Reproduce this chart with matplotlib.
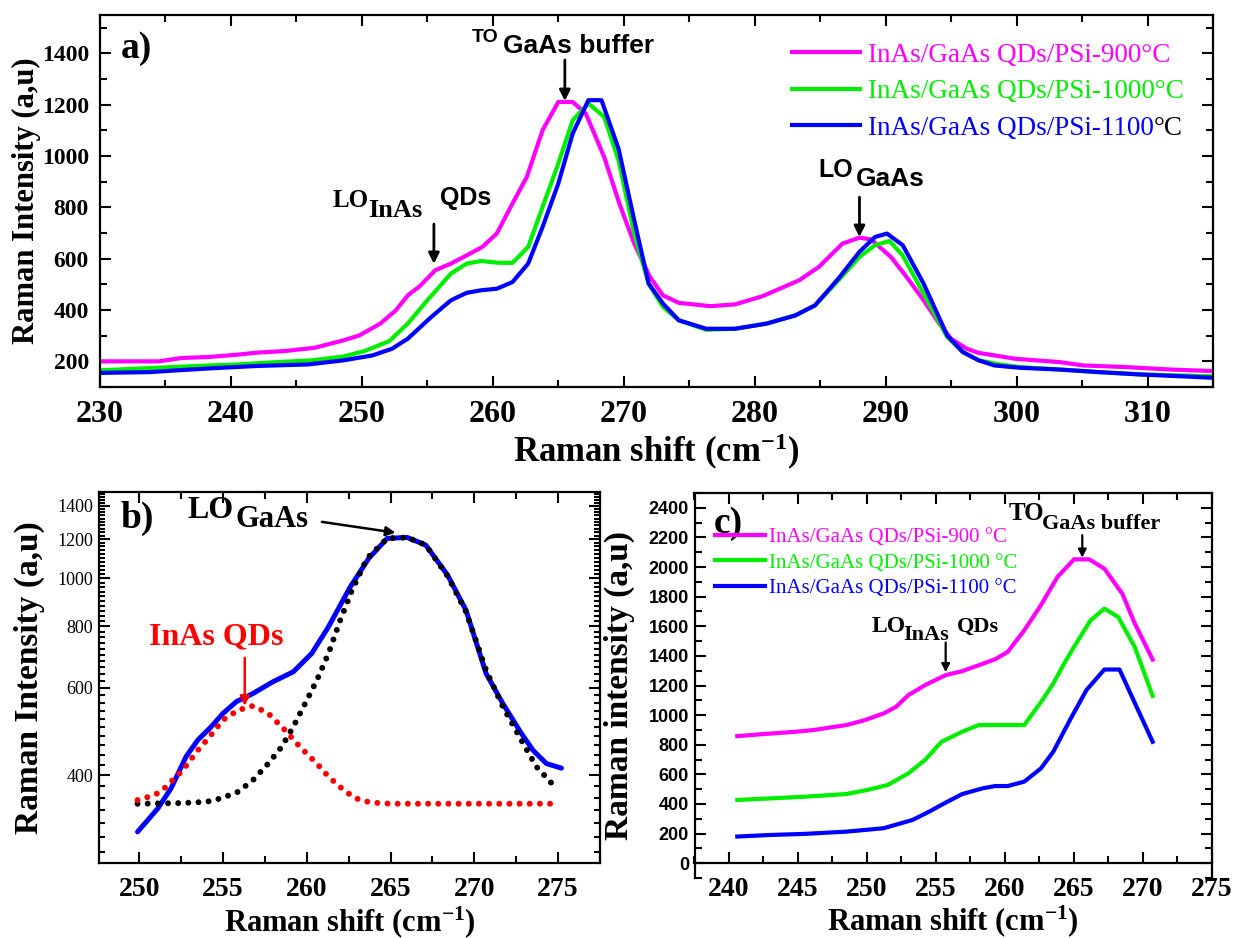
import numpy as np
import matplotlib
matplotlib.use('Agg')
import matplotlib.pyplot as plt
from matplotlib.ticker import MultipleLocator, FixedLocator, NullFormatter, FuncFormatter

plt.rcParams['font.family'] = 'Liberation Serif'
plt.rcParams['mathtext.fontset'] = 'custom'
plt.rcParams['mathtext.rm'] = 'Liberation Serif:bold'
plt.rcParams['mathtext.bf'] = 'Liberation Serif:bold'
plt.rcParams['mathtext.it'] = 'Liberation Serif:italic:bold'
plt.rcParams['mathtext.sf'] = 'Liberation Sans:bold'

# ---- panel a data ----
xa_900 = [230, 234.5, 236.2, 238.3, 240.5, 242, 244.1, 246.4, 248.6, 249.8, 251.4, 252.6, 253.5,
          254.4, 255.6, 256.8, 258, 259.2, 260.3, 261.5, 262.6, 263.8, 265, 266.1, 267.1, 268.5,
          269.7, 270.8, 272.0, 273.0, 274.2, 276.6, 278.5, 280.6, 283.4, 284.9, 286.7, 288.0,
          288.9, 290.4, 291.6, 292.9, 294.1, 295.0, 296.2, 297.1, 299.9, 303.3, 305.1, 308.2,
          311.8, 315]
ya_900 = [200, 200, 213, 217, 226, 234, 240, 253, 282, 301, 347, 399, 457, 492, 555, 581, 613,
          646, 698, 815, 919, 1101, 1211, 1211, 1166, 997, 810, 659, 529, 457, 428, 415, 422,
          454, 516, 568, 659, 682, 675, 607, 529, 438, 347, 288, 249, 233, 210, 197, 184, 178,
          168, 162]
xa_1000 = [230, 234.4, 237.4, 240.5, 243.5, 246.2, 248.6, 250.2, 252.1, 253.5, 255, 256.8, 258,
           259.1, 260.5, 261.5, 262.7, 263.8, 265, 266.1, 267.3, 268.5, 269.6, 270.8, 271.9,
           273.0, 274.2, 276.3, 278.5, 280.9, 283.1, 284.6, 286.4, 288, 289.2, 290.3, 291.3,
           292.9, 294.7, 295.9, 297.1, 298.7, 300.2, 303.3, 306.3, 309.4, 315]
ya_1000 = [165, 175, 182, 188, 197, 204, 219, 240, 279, 347, 438, 542, 581, 591, 584, 584, 646,
           802, 971, 1140, 1205, 1153, 984, 698, 503, 412, 360, 323, 327, 347, 379, 418, 516,
           607, 653, 669, 613, 464, 295, 236, 204, 188, 178, 168, 158, 149, 142]
xa_1100 = [230, 233.8, 235.9, 238.9, 242, 245.9, 248.6, 250.8, 252.3, 253.5, 255.3, 256.8, 258,
           259.1, 260.3, 261.5, 262.7, 263.8, 265, 266.1, 267.3, 268.3, 269.6, 270.8, 271.9,
           273.0, 274.2, 276.3, 278.5, 280.9, 283.1, 284.6, 286.4, 288, 289.2, 290.1, 291.3,
           292.9, 294.7, 295.9, 297.1, 298.3, 300.2, 303.3, 306.3, 309.4, 315]
ya_1100 = [155, 158, 165, 174, 182, 188, 204, 223, 249, 288, 373, 438, 467, 477, 483, 509, 581,
           724, 893, 1088, 1218, 1218, 1029, 750, 503, 425, 360, 327, 327, 347, 379, 418, 523,
           627, 685, 698, 653, 503, 301, 236, 204, 184, 175, 168, 158, 149, 136]

# ---- panel b data: measured spectrum and the two fitted peaks ----
xb_meas = [249.9, 251.1, 251.9, 252.8, 253.5, 254.3, 255.0, 255.8, 256.8, 258.0, 259.2, 260.3,
           261.3, 262.6, 263.7, 264.8, 266.0, 267.1, 268.4, 269.5, 270.7, 271.7, 272.8, 273.5,
           274.3, 275.2]
yb_meas = [307, 342, 376, 436, 471, 501, 533, 563, 585, 618, 647, 705, 798, 961, 1097, 1204,
           1209, 1167, 1015, 862, 642, 558, 486, 449, 422, 413]
xb_inas = [249.9, 250.4, 251.0, 251.4, 251.9, 252.6, 253.5, 254.2, 255.0, 255.9, 256.8, 257.7,
           258.7, 259.6, 260.6, 261.3, 262.2, 262.9, 263.8, 265.0, 270.0, 275.0]
yb_inas = [356, 360, 366, 373, 388, 409, 449, 478, 517, 541, 552, 533, 493, 456, 422, 397, 373,
           359, 352, 350, 350, 350]
xb_gaas = [249.9, 252.4, 254.0, 254.9, 255.9, 256.8, 257.7, 258.5, 259.2, 259.9, 260.6, 261.3,
           262.0, 262.7, 263.6, 264.8, 266.0, 267.1, 268.4, 269.5, 270.7, 271.7, 272.8, 273.7,
           274.8]
yb_gaas = [350, 351, 353, 359, 370, 391, 422, 456, 501, 558, 622, 705, 823, 946, 1097, 1204,
           1209, 1167, 1011, 856, 652, 550, 471, 416, 379]

# ---- panel c data ----
xc_900 = [240.6, 242.5, 244.9, 246.1, 248.5, 249.7, 251.2, 252.1, 253.0, 254.2, 255.7, 256.9,
          258.1, 259.3, 260.2, 261.4, 262.6, 263.8, 265.0, 266.1, 267.2, 268.5, 269.4, 270.7]
yc_900 = [858, 872, 888, 899, 933, 962, 1011, 1056, 1135, 1202, 1270, 1297, 1337, 1378, 1427,
          1573, 1742, 1933, 2052, 2052, 1989, 1820, 1620, 1375]
xc_1000 = [240.6, 243.1, 245.5, 248.5, 250.0, 251.5, 253.0, 254.2, 255.4, 256.9, 258.1, 259.3,
           260.5, 261.4, 262.0, 262.7, 263.5, 264.3, 265.0, 266.2, 267.2, 268.2, 269.4, 270.7]
yc_1000 = [427, 438, 449, 467, 494, 528, 607, 697, 820, 888, 933, 933, 933, 933, 1011, 1100,
           1214, 1350, 1461, 1640, 1719, 1663, 1461, 1130]
xc_1100 = [240.6, 243.1, 245.5, 248.5, 251.2, 253.3, 254.5, 255.7, 256.9, 258.4, 259.3, 260.2,
           261.4, 262.6, 263.5, 264.7, 265.9, 267.2, 268.3, 269.2, 270.7]
yc_1100 = [180, 191, 198, 213, 236, 292, 348, 409, 467, 506, 521, 521, 551, 640, 753, 966,
           1169, 1308, 1308, 1124, 820]

labels_a = ['InAs/GaAs QDs/PSi-900°C', 'InAs/GaAs QDs/PSi-1000°C', 'InAs/GaAs QDs/PSi-1100']
labels_c = ['InAs/GaAs QDs/PSi-900 °C', 'InAs/GaAs QDs/PSi-1000 °C', 'InAs/GaAs QDs/PSi-1100 °C']
colors = ['#ff00ff', '#00ee00', '#0000ff']
b_yticks = [400, 600, 800, 1000, 1200, 1400]

W, H = 1247, 938
fig = plt.figure(figsize=(W / 100, H / 100), dpi=100)


def px_axes(l, t, r, b):
    return fig.add_axes([l / W, 1 - b / H, (r - l) / W, (b - t) / H])


def style(ax):
    for s in ax.spines.values():
        s.set_linewidth(1.6)
    ax.tick_params(which='both', direction='in', top=True, right=True, width=1.5)
    ax.tick_params(which='major', length=8)
    ax.tick_params(which='minor', length=5)


def bold_ticks(labels, fam='Liberation Serif'):
    for t in labels:
        t.set_fontweight('bold')
        t.set_fontfamily(fam)


def place_labels(ax, xl, yl, xsize, ysize, xy_x, xy_y):
    ax.set_xlabel(xl, fontsize=xsize, fontweight='bold')
    ax.set_ylabel(yl, fontsize=ysize, fontweight='bold')
    ax.xaxis.set_label_coords(0.5, xy_x)
    ax.yaxis.set_label_coords(xy_y, 0.5)
    ax.xaxis.label.set_va('top')
    ax.yaxis.label.set_va('top')


arrow = dict(arrowstyle='-|>', color='k', lw=2, mutation_scale=16, shrinkA=0, shrinkB=0)
SANS = 'Liberation Sans'

# ================= panel a =================
ax = px_axes(100, 15, 1213, 387)
style(ax)
for xs, ys, c, lab in zip([xa_900, xa_1000, xa_1100], [ya_900, ya_1000, ya_1100], colors, labels_a):
    ax.plot(xs, ys, color=c, lw=3, label=lab)
ax.set_xlim(230, 315)
ax.set_ylim(100, 1550)
ax.xaxis.set_major_locator(MultipleLocator(10))
ax.xaxis.set_minor_locator(MultipleLocator(5))
ax.yaxis.set_major_locator(FixedLocator([200, 400, 600, 800, 1000, 1200, 1400]))
ax.yaxis.set_minor_locator(MultipleLocator(100))
ax.tick_params(axis='x', labelsize=23, pad=9)
ax.tick_params(axis='y', labelsize=17, pad=8)
bold_ticks(ax.get_xticklabels())
bold_ticks(ax.get_yticklabels())
place_labels(ax, 'Raman shift (cm$^{-1}$)', 'Raman Intensity (a,u)', 25, 22, -0.12, -0.079)
ax.text(0.019, 0.911, 'a)', transform=ax.transAxes, fontsize=27, fontweight='bold', va='center')
leg_a = ax.legend(loc='upper left', bbox_to_anchor=(0.622, 0.925), frameon=False, fontsize=19.5,
                  handlelength=2.5, handletextpad=0.3, labelspacing=0.42, borderpad=0,
                  borderaxespad=0, labelcolor='linecolor')
# TO GaAs buffer
ax.text(258.4, 1445, 'TO', fontsize=14, fontfamily=SANS, fontweight='bold', va='baseline')
ax.text(260.8, 1400, 'GaAs buffer', fontsize=19, fontfamily=SANS, fontweight='bold', va='baseline')
ax.annotate('', xy=(265.5, 1215), xytext=(265.5, 1375), arrowprops=arrow)
# LO InAs QDs
ax.text(247.8, 802, 'LO', fontsize=18, fontweight='bold', va='baseline')
ax.text(250.5, 763, 'InAs', fontsize=19, fontweight='bold', va='baseline')
ax.text(256.0, 808, 'QDs', fontsize=18, fontfamily=SANS, fontweight='bold', va='baseline')
ax.annotate('', xy=(255.5, 580), xytext=(255.5, 735), arrowprops=arrow)
# LO GaAs
ax.text(284.9, 918, 'LO', fontsize=18, fontfamily=SANS, fontweight='bold', va='baseline')
ax.text(287.7, 882, 'GaAs', fontsize=19, fontfamily=SANS, fontweight='bold', va='baseline')
ax.annotate('', xy=(288, 685), xytext=(288, 840), arrowprops=arrow)

# ================= panel b =================
ax = px_axes(99, 492, 600, 863)
style(ax)
ax.plot(xb_meas, yb_meas, color='#0000ff', lw=3.6, solid_capstyle='round')
ax.plot(xb_gaas, yb_gaas, color='k', lw=4.3, ls=(0, (0.001, 1.7)), dash_capstyle='round')
ax.plot(xb_inas, yb_inas, color='#ff0000', lw=4.3, ls=(0, (0.001, 1.7)), dash_capstyle='round')
ax.set_yscale('log')
ax.set_xlim(247.6, 277.5)
ax.set_ylim(265.6, 1494)
ax.xaxis.set_major_locator(MultipleLocator(5))
ax.xaxis.set_minor_locator(MultipleLocator(2.5))
ax.yaxis.set_major_locator(FixedLocator(b_yticks))
ax.yaxis.set_major_formatter(FuncFormatter(lambda v, p: f'{v:.0f}'))
ax.yaxis.set_minor_locator(FixedLocator(np.arange(280, 1500, 20)))
ax.yaxis.set_minor_formatter(NullFormatter())
ax.tick_params(axis='x', labelsize=20, pad=10)
ax.tick_params(axis='y', labelsize=13, pad=4)
ax.tick_params(axis='y', which='minor', length=4)
bold_ticks(ax.get_xticklabels())
place_labels(ax, 'Raman shift (cm$^{-1}$)', 'Raman Intensity (a,u)', 22, 24, -0.11, -0.17)
ax.text(0.042, 0.93, 'b)', transform=ax.transAxes, fontsize=27, fontweight='bold', va='center')
ax.text(252.9, 1321, 'LO', fontsize=23, fontweight='bold', va='baseline')
ax.text(255.75, 1270, 'GaAs', fontsize=22, fontweight='bold', va='baseline')
ax.annotate('', xy=(265.3, 1236), xytext=(260.9, 1300),
            arrowprops=dict(arrow, lw=1.8, mutation_scale=14))
ax.text(250.6, 733, 'InAs QDs', fontsize=23, fontweight='bold', color='#ff0000', va='baseline')
ax.annotate('', xy=(256.3, 552), xytext=(256.3, 690),
            arrowprops=dict(arrow, color='#ff0000', lw=1.8, mutation_scale=14))

# ================= panel c =================
ax = px_axes(694.5, 493, 1212, 878)
style(ax)
for xs, ys, c, lab in zip([xc_900, xc_1000, xc_1100], [yc_900, yc_1000, yc_1100], colors, labels_c):
    ax.plot(xs, ys, color=c, lw=3, label=lab)
ax.set_xlim(237.5, 275)
ax.set_ylim(-100, 2500)
ax.spines['bottom'].set_position(('data', 0))
ax.xaxis.set_major_locator(MultipleLocator(5))
ax.xaxis.set_minor_locator(MultipleLocator(2.5))
ax.yaxis.set_major_locator(FixedLocator(np.arange(0, 2401, 200)))
ax.yaxis.set_minor_locator(MultipleLocator(100))
ax.tick_params(axis='x', labelsize=20, pad=10)
ax.tick_params(axis='y', labelsize=13, pad=4)
bold_ticks(ax.get_xticklabels())
bold_ticks(ax.get_yticklabels(), SANS)
place_labels(ax, 'Raman shift (cm$^{-1}$)', 'Raman intensity (a,u)', 22, 24, -0.065, -0.175)
ax.text(0.038, 0.922, 'c)', transform=ax.transAxes, fontsize=27, fontweight='bold', va='center')
ax.legend(loc='upper left', bbox_to_anchor=(0.04, 0.91), frameon=False, fontsize=15,
          handlelength=2.4, handletextpad=0.2, labelspacing=0.28, borderpad=0,
          borderaxespad=0, labelcolor='linecolor')
ax.text(260.25, 2315, 'TO', fontsize=18, fontweight='bold', va='baseline')
ax.text(262.65, 2258, 'GaAs buffer', fontsize=16, fontweight='bold', va='baseline')
ax.annotate('', xy=(265.6, 2063), xytext=(265.6, 2215),
            arrowprops=dict(arrow, lw=1.6, mutation_scale=12))
ax.text(250.35, 1562, 'LO', fontsize=17, fontweight='bold', va='baseline')
ax.text(252.6, 1506, 'InAs', fontsize=16, fontweight='bold', va='baseline')
ax.text(256.5, 1562, 'QDs', fontsize=16, fontweight='bold', va='baseline')
ax.annotate('', xy=(255.7, 1290), xytext=(255.7, 1490),
            arrowprops=dict(arrow, lw=1.6, mutation_scale=12))

# black degree sign after the blue legend entry of panel a, as in the original
fig.canvas.draw()
bb = leg_a.get_texts()[2].get_window_extent()
fig.text(bb.x1 / W, bb.y0 / H, '°C', fontsize=19.5, color='k', va='bottom', ha='left')

fig.savefig('out.png', dpi=100)
